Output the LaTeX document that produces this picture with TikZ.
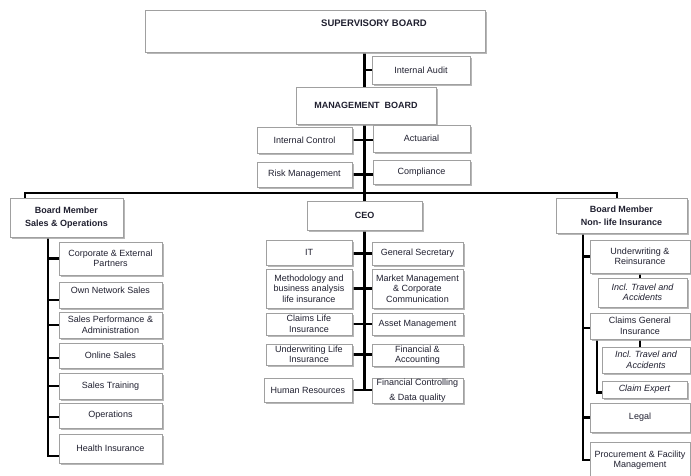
\documentclass[tikz,border=0pt]{standalone}
\usepackage{fontspec}
\setmainfont{Liberation Sans}
\usetikzlibrary{shadows,backgrounds}
\definecolor{textc}{RGB}{32,32,48}
\definecolor{boxline}{RGB}{160,160,160}
\begin{document}
\begin{tikzpicture}[x=1pt,y=-1pt,
  box/.style={draw=boxline, line width=0.8pt, fill=white, align=center, inner sep=0pt,
    text=textc, font=\fontsize{9}{10.5}\selectfont,
    drop shadow={shadow xshift=1.6pt, shadow yshift=-1.6pt, fill=gray!70, opacity=0.8}},
  bbox/.style={box, font=\bfseries\fontsize{9}{13}\selectfont},
  ibox/.style={box, font=\itshape\fontsize{9}{10.5}\selectfont},
  conn/.style={draw=black, line width=2.6pt}]
\useasboundingbox (0,0) rectangle (691,475);
% top
\node[box, minimum width=340pt, minimum height=42pt] (sup) at (315,31) {};
\node[text=textc, font=\bfseries\fontsize{9.5}{11}\selectfont, inner sep=0pt] (suplab) at (374,23) {SUPERVISORY BOARD};
\node[box, minimum width=98pt, minimum height=28pt] (ia) at (421,70) {Internal Audit};
\node[bbox, minimum width=140pt, minimum height=37pt] (mb) at (366,105.5) {MANAGEMENT\ \ BOARD};
\node[box, minimum width=95pt, minimum height=26pt] (ic) at (304.5,140) {Internal Control};
\node[box, minimum width=97pt, minimum height=27pt] (act) at (421.5,138.5) {Actuarial};
\node[box, minimum width=95pt, minimum height=25pt] (rm) at (304.5,174.5) {Risk Management};
\node[box, minimum width=97pt, minimum height=24pt] (comp) at (421.5,172) {Compliance};
\node[bbox, minimum width=115pt, minimum height=29pt] (ceo) at (364.5,215.5) {CEO};
\node[bbox, minimum width=113pt, minimum height=39pt] (bml) at (66.5,217.5) {Board Member\\Sales \& Operations};
\node[bbox, minimum width=131pt, minimum height=35pt] (bmr) at (621.5,215.5) {Board Member\\Non- life Insurance};
% left column
\node[box, minimum width=103pt, minimum height=33pt] (cep) at (110.5,258.5) {Corporate \& External\\Partners};
\node[box, minimum width=103pt, minimum height=26pt] (ons) at (110.5,295) {Own Network Sales\\\mbox{}};
\node[box, minimum width=103pt, minimum height=26pt] (spa) at (110.5,325) {Sales Performance \&\\Administration};
\node[box, minimum width=103pt, minimum height=25pt] (os) at (110.5,355.5) {Online Sales};
\node[box, minimum width=103pt, minimum height=26pt] (st) at (110.5,386) {Sales Training};
\node[box, minimum width=103pt, minimum height=25pt] (ops) at (110.5,415.5) {Operations};
\node[box, minimum width=103pt, minimum height=29pt] (hi) at (110.5,448.5) {Health Insurance};
% centre column
\node[box, minimum width=86pt, minimum height=25pt] (it) at (309,252.5) {IT};
\node[box, minimum width=91pt, minimum height=23pt] (gs) at (417.5,253.5) {General Secretary};
\node[box, minimum width=86pt, minimum height=39pt] (meth) at (309,288.5) {Methodology and\\business analysis\\life insurance};
\node[box, minimum width=91pt, minimum height=39pt] (mm) at (417.5,288.5) {Market Management\\\& Corporate\\Communication};
\node[box, minimum width=86pt, minimum height=22pt] (cl) at (309,324) {Claims Life\\Insurance};
\node[box, minimum width=91pt, minimum height=22pt] (am) at (417.5,324) {Asset Management};
\node[box, minimum width=86pt, minimum height=21pt] (ul) at (309,354.5) {Underwriting Life\\Insurance};
\node[box, minimum width=91pt, minimum height=22pt] (fa) at (417.5,355) {Financial \&\\Accounting};
\node[box, minimum width=88pt, minimum height=24pt] (hr) at (308,390) {Human Resources};
\node[box, minimum width=91pt, minimum height=25pt] (fc) at (417.5,390.5) {Financial Controlling\\[4pt]\& Data quality};
% right column
\node[box, minimum width=100pt, minimum height=33pt] (ur) at (640,256.5) {Underwriting \&\\Reinsurance};
\node[ibox, minimum width=89pt, minimum height=29pt] (ita1) at (642.5,292.5) {Incl. Travel and\\Accidents};
\node[box, minimum width=100pt, minimum height=26pt] (cgi) at (640,326) {Claims General\\Insurance};
\node[ibox, minimum width=88pt, minimum height=26pt] (ita2) at (646,360) {Incl. Travel and\\Accidents};
\node[ibox, minimum width=85pt, minimum height=17pt] (ce) at (644.5,389.5) {Claim Expert};
\node[box, minimum width=100pt, minimum height=29pt] (legal) at (640,417.5) {Legal};
\node[box, minimum width=100pt, minimum height=36pt] (pfm) at (640,460) {Procurement \& Facility\\Management};
% helper coordinates
\coordinate (hl) at (25,193);
\coordinate (hrr) at (617,193);
\coordinate (lv) at (48,237);
\coordinate (lvb) at (48,456);
\coordinate (rv) at (583,233);
\coordinate (sv) at (597,339);
\begin{pgfonlayer}{background}
\fill[white] (0,0) rectangle (691,475);
% trunk
\draw[conn] (ceo.north |- sup.south) -- (ceo.north);
\draw[conn] (ia.west) -- (ia.west -| ceo.north);
\draw[conn] (ic.east) -- (ic.east -| act.west);
\draw[conn] (rm.east) -- (rm.east -| comp.west);
\draw[conn] (hl |- bml.north) -- (hl) -- (hrr) -- (hrr |- bmr.north);
% left
\draw[conn] (lv) -- (lvb) -- (lvb -| hi.west);
\draw[conn] (cep.west -| lv) -- (cep.west);
\draw[conn] ([yshift=-5pt]ons.west -| lv) -- ([yshift=-5pt]ons.west);
\draw[conn] (spa.west -| lv) -- (spa.west);
\draw[conn] ([yshift=-2.5pt]os.west -| lv) -- ([yshift=-2.5pt]os.west);
\draw[conn] (st.west -| lv) -- (st.west);
\draw[conn] ([yshift=-1.5pt]ops.west -| lv) -- ([yshift=-1.5pt]ops.west);
% centre
\draw[conn] (ceo.south) -- (ceo.south |- hr.east);
\draw[conn] (it.east |- gs.west) -- (gs.west);
\draw[conn] (meth.east) -- (mm.west);
\draw[conn] (cl.east) -- (am.west);
\draw[conn] (ul.east) -- (ul.east -| fa.west);
\draw[conn] (hr.east) -- (hr.east -| fc.west);
% right
\draw[conn] (rv) |- (pfm.west);
\draw[conn] (ur.west -| rv) -- (ur.west);
\draw[conn] ([yshift=-2pt]cgi.west -| rv) -- ([yshift=-2pt]cgi.west);
\draw[conn] (legal.west -| rv) -- (legal.west);
\draw[conn] (ur.south) -- (ur.south |- ita1.north);
\draw[conn] (cgi.south) -- (cgi.south |- ita2.north);
\draw[conn] (sv) |- ([yshift=-3pt]ce.west);
\end{pgfonlayer}
\end{tikzpicture}
\end{document}
